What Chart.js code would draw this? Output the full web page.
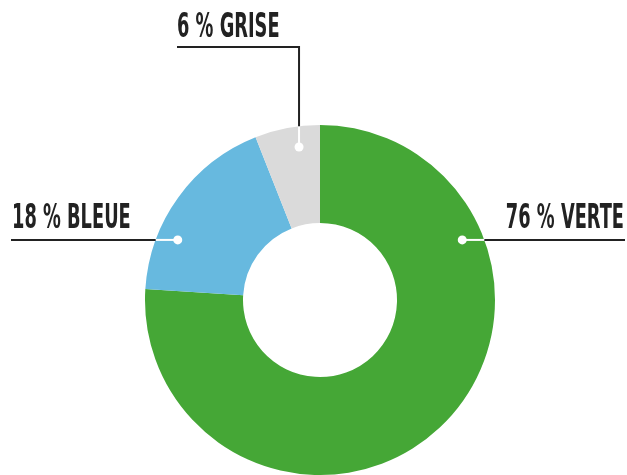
<!DOCTYPE html>
<html>
<head>
<meta charset="utf-8">
<script src="https://cdn.jsdelivr.net/npm/chart.js@4/dist/chart.umd.min.js"></script>
<style>
  html, body { margin: 0; padding: 0; background: #fff; }
  #wrap { width: 627px; height: 475px; }
</style>
</head>
<body>
<div id="wrap"><canvas id="donut" width="627" height="475"></canvas></div>
<script>
// data
const categories = ["VERTE", "BLEUE", "GRISE"];
const percents = [76, 18, 6];
const colors = ["#45a736", "#67b9df", "#dadada"];

// where each leader dot sits on its slice (degrees clockwise from top, 0..1 across the ring)
const labelSpots = [
    { angle: 67.1, depth: 0.79, side: "right" },
    { angle: 292.9, depth: 0.79, side: "left" },
    { angle: 352.2, depth: 0.79, side: "up", endX: 177, lineY: 47 }
];

const labelFont = 'bold 33px "DejaVu Sans Condensed", "Liberation Sans Narrow", sans-serif';
const squeeze = 0.6;   // the original face is more condensed than anything installed

const leaderPlugin = {
    id: "leaders",
    afterDatasetsDraw(chart) {
        const ctx = chart.ctx;
        const arcs = chart.getDatasetMeta(0).data;
        const W = chart.width;
        arcs.forEach((arc, i) => {
            const spot = labelSpots[i];
            const cx = arc.x, cy = arc.y;
            const R = arc.outerRadius, r = arc.innerRadius;
            const rad = spot.angle * Math.PI / 180;
            const dist = r + (R - r) * spot.depth;
            const px = cx + dist * Math.sin(rad);
            const py = cy - dist * Math.cos(rad);
            const text = percents[i] + " % " + categories[i];

            ctx.save();
            ctx.lineWidth = 2;
            ctx.lineCap = "butt";

            if (spot.side === "up") {
                const edgeY = cy - Math.sqrt(R * R - (px - cx) * (px - cx));
                ctx.strokeStyle = "#fff";
                ctx.beginPath(); ctx.moveTo(px, py); ctx.lineTo(px, edgeY); ctx.stroke();
                ctx.strokeStyle = "#222";
                ctx.beginPath();
                ctx.moveTo(px, edgeY);
                ctx.lineTo(px, spot.lineY);
                ctx.lineTo(spot.endX, spot.lineY);
                ctx.stroke();
                drawText(ctx, text, spot.endX, spot.lineY - 10, "left");
            } else {
                const half = Math.sqrt(R * R - (py - cy) * (py - cy));
                const edgeX = spot.side === "right" ? cx + half : cx - half;
                const endX = spot.side === "right" ? W - 2 : 11;
                ctx.strokeStyle = "#fff";
                ctx.beginPath(); ctx.moveTo(px, py); ctx.lineTo(edgeX, py); ctx.stroke();
                ctx.strokeStyle = "#222";
                ctx.beginPath(); ctx.moveTo(edgeX, py); ctx.lineTo(endX, py); ctx.stroke();
                if (spot.side === "right") drawText(ctx, text, endX - 1, py - 12, "right");
                else drawText(ctx, text, endX + 1, py - 12, "left");
            }

            ctx.fillStyle = "#fff";
            ctx.beginPath();
            ctx.arc(px, py, 4.5, 0, Math.PI * 2);
            ctx.fill();
            ctx.restore();
        });
    }
};

function drawText(ctx, text, x, baseline, align) {
    ctx.save();
    ctx.font = labelFont;
    ctx.fillStyle = "#222";
    ctx.textBaseline = "alphabetic";
    ctx.textAlign = align;
    ctx.translate(x, baseline);
    ctx.scale(squeeze, 1);
    ctx.fillText(text, 0, 0);
    ctx.restore();
}

new Chart(document.getElementById("donut"), {
    type: "doughnut",
    data: {
        labels: categories,
        datasets: [{
            data: percents,
            backgroundColor: colors,
            borderWidth: 0,
            hoverOffset: 0
        }]
    },
    options: {
        responsive: false,
        animation: false,
        cutout: "44%",
        layout: { padding: { left: 145, right: 132, top: 125, bottom: 0 } },
        plugins: {
            legend: { display: false },
            tooltip: { enabled: false }
        }
    },
    plugins: [leaderPlugin]
});
</script>
</body>
</html>
